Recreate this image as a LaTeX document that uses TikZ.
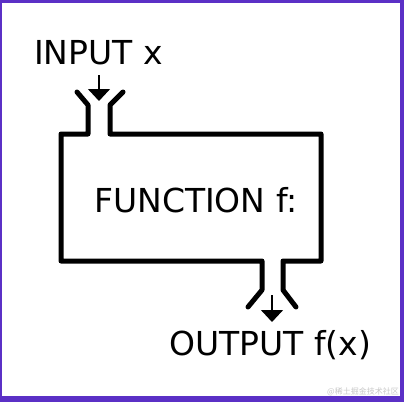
\documentclass[tikz,border=0pt]{standalone}
\usepackage{fontspec}
\usetikzlibrary{arrows.meta}
\setmainfont{DejaVu Sans}
\newfontfamily\cjk{Noto Sans CJK SC}
\definecolor{frame}{HTML}{5B30C6}
\definecolor{wm}{HTML}{C8C8C8}
\begin{document}
\begin{tikzpicture}[x=1pt,y=-1pt,
  pipe/.style={line width=5pt, line cap=round, line join=round},
  flowarrow/.style={line width=1.6pt, -{Triangle[width=22pt,length=12pt]}},
  label/.style={font=\fontsize{33}{33}\selectfont, inner sep=0pt, anchor=base west}]
\useasboundingbox (0,0) rectangle (404,402);
\fill[frame] (0,0) rectangle (404,402);
\fill[white] (1.5,2.5) rectangle (400,395.5);
% machine outline
\draw[pipe] (77,92) -- (88,105) -- (88,134) -- (61,134) -- (61,261) -- (262,261)
  -- (262,290) -- (248,307);
\draw[pipe] (123,92) -- (110,105) -- (110,134) -- (321,134) -- (321,261) -- (283,261)
  -- (283,290) -- (296,307);
% labels
\node[label] (in) at (34,64) {INPUT x};
\node[label] (fn) at (94,212) {FUNCTION f:};
\node[label] (out) at (169,355) {OUTPUT f(x)};
\coordinate (ina) at (99,75);
\coordinate (inb) at (99,101);
\coordinate (outa) at (272,295);
\coordinate (outb) at (272,322);
\draw[flowarrow] (ina) -- (inb);
\draw[flowarrow] (outa) -- (outb);
\node[font=\cjk\fontsize{8}{8}\selectfont, text=wm, inner sep=0pt, anchor=base east] (wmk) at (399,394) {@稀土掘金技术社区};
\end{tikzpicture}
\end{document}
